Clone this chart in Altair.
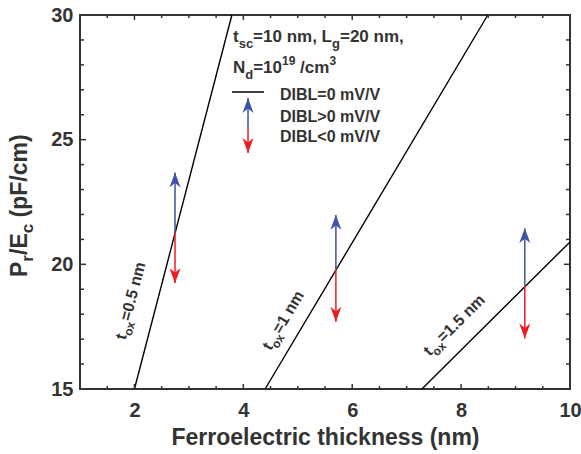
import altair as alt
import pandas as pd

FONT = "Liberation Sans"
TXT = "#333333"
AXC = "#333333"
BLUE = "#3a53a4"
RED = "#ed1c24"

W, H = 490, 374

# ---------------- data ----------------
tox_labels = ["0.5", "1", "1.5"]
line_x_start = [2.00, 4.40, 7.28]
line_y_start = [15.0, 15.0, 15.0]
line_x_end = [3.79, 8.49, 10.00]
line_y_end = [30.0, 30.0, 20.9]

arrow_x = [2.745, 5.70, 9.17]
arrow_y_mid = [21.3, 19.8, 19.15]
arrow_y_up = [23.68, 21.98, 21.45]
arrow_y_down = [19.25, 17.70, 17.03]

x_tick_labels = [2, 4, 6, 8, 10]
y_tick_labels = [15, 20, 25, 30]
x_major_ticks = [2, 4, 6, 8]
x_minor_ticks = [1.5, 2.5, 3, 3.5, 4.5, 5, 5.5, 6.5, 7, 7.5, 8.5, 9, 9.5]
y_major_ticks = [20, 25]
y_minor_ticks = [16, 17, 18, 19, 21, 22, 23, 24, 26, 27, 28, 29]

# annotation anchors (data units)
label_x = [1.834, 4.505, 7.422]
label_y = [16.95, 16.51, 16.29]
label_angle = [284.7, 300.8, 315.2]

legend_text_x = 3.81
legend_text_y = [28.92, 27.68]
legend_line_x = [3.792, 4.380]
legend_line_y = 26.91
legend_arrow_x = 4.086
legend_arrow_y = [26.67, 25.47, 24.47]  # up tip, middle, down tip
dibl_x = 4.674
dibl_y = [26.59, 25.71, 24.91]
dibl_text = ["DIBL=0 mV/V", "DIBL>0 mV/V", "DIBL<0 mV/V"]

# ---------------- helpers ----------------
ARIAL_BOLD = {
    " ": 278, "(": 333, ")": 333, ",": 278, ".": 278, "/": 278, "=": 584, "<": 584, ">": 584,
    "A": 722, "B": 722, "C": 722, "D": 722, "E": 667, "F": 611, "I": 278, "L": 611, "N": 722,
    "P": 667, "V": 667, "a": 556, "c": 556, "d": 611, "e": 556, "g": 611, "h": 611, "i": 278,
    "k": 556, "l": 278, "m": 889, "n": 611, "o": 611, "p": 611, "r": 389, "s": 556, "t": 333,
    "x": 556,
}


def tw(s, fs):
    return sum(ARIAL_BOLD.get(ch, 556) for ch in s) / 1000.0 * fs


xscale = alt.Scale(domain=[1, 10], nice=False, zero=False)
yscale = alt.Scale(domain=[15, 30], nice=False, zero=False)
XAXIS = alt.Axis(
    values=x_tick_labels, ticks=False, tickSize=0, domain=False, grid=False,
    labelFont=FONT, labelFontSize=20, labelFontWeight="bold", labelColor=TXT,
    labelPadding=11, labelFlush=False, labelOverlap=False,
    title="Ferroelectric thickness (nm)", titleFont=FONT, titleFontSize=23,
    titleFontWeight="bold", titleColor=TXT, titlePadding=6)
YAXIS = alt.Axis(
    values=y_tick_labels, ticks=False, tickSize=0, domain=False, grid=False,
    labelFont=FONT, labelFontSize=20, labelFontWeight="bold", labelColor=TXT,
    labelPadding=7, labelFlush=False, labelOverlap=False, title=None)
X = alt.X("x:Q", scale=xscale, axis=XAXIS)
Y = alt.Y("y:Q", scale=yscale, axis=YAXIS)
YT = alt.Y("y2:Q", scale=yscale, axis=YAXIS)
X2 = alt.X2("x2:Q")
Y2 = alt.Y2("y2:Q")


def rich(x, y, parts, size, angle=0, pixel=False, sub_ratio=0.76, sub_drop=0.33):
    """parts: list of (text, kind) with kind in n/sub/sup"""
    out = []
    off = 0.0
    for t, kind in parts:
        if kind == "n":
            fs, dy = size, 0
        elif kind == "sub":
            fs, dy = round(size * sub_ratio), round(size * sub_drop)
        else:
            fs, dy = round(size * 0.72), -round(size * 0.45)
        stripped = t.lstrip(" ")
        off += tw(t[: len(t) - len(stripped)], fs)
        mk = dict(align="left", baseline="alphabetic", dx=round(off, 1), dy=dy,
                  fontSize=fs, font=FONT, fontWeight="bold", color=TXT)
        if angle:
            mk["angle"] = angle % 360
        df = pd.DataFrame({"x": [x], "y": [y], "t": [stripped]})
        if pixel:
            enc = dict(x=alt.value(x), y=alt.value(y), text="t:N")
        else:
            enc = dict(x=X, y=Y, text="t:N")
        out.append(alt.Chart(df).mark_text(**mk).encode(**enc))
        off += tw(stripped, fs)
    return out


layers = []

# main lines
rows = []
for i, n in enumerate(tox_labels):
    rows.append({"tox": n, "x": line_x_start[i], "y": line_y_start[i], "o": 0})
    rows.append({"tox": n, "x": line_x_end[i], "y": line_y_end[i], "o": 1})
lines_df = pd.DataFrame(rows)
layers.append(alt.Chart(lines_df).mark_line(color="black", strokeWidth=1.4).encode(
    x=X, y=Y, detail="tox:N", order="o:Q"))

# arrows
UP = "M0,0 L1,2.7 L0,1.9 L-1,2.7 Z"
DOWN = "M0,0 L1,-2.7 L0,-1.9 L-1,-2.7 Z"
ar_up = pd.DataFrame({"x": arrow_x + [legend_arrow_x],
                      "y": arrow_y_mid + [legend_arrow_y[1]],
                      "y2": arrow_y_up + [legend_arrow_y[0]]})
ar_dn = pd.DataFrame({"x": arrow_x + [legend_arrow_x],
                      "y": arrow_y_mid + [legend_arrow_y[1]],
                      "y2": arrow_y_down + [legend_arrow_y[2]]})
layers.append(alt.Chart(ar_up).mark_rule(color=BLUE, strokeWidth=1.5).encode(x=X, y=Y, y2=Y2))
layers.append(alt.Chart(ar_dn).mark_rule(color=RED, strokeWidth=1.5).encode(x=X, y=Y, y2=Y2))
layers.append(alt.Chart(ar_up).mark_point(shape=UP, filled=True, size=121, color=BLUE,
                                          opacity=1, strokeWidth=0).encode(x=X, y=YT))
layers.append(alt.Chart(ar_dn).mark_point(shape=DOWN, filled=True, size=121, color=RED,
                                          opacity=1, strokeWidth=0).encode(x=X, y=YT))

# legend line
leg_df = pd.DataFrame({"x": [legend_line_x[0]], "x2": [legend_line_x[1]], "y": [legend_line_y]})
layers.append(alt.Chart(leg_df).mark_rule(color="black", strokeWidth=1.4).encode(x=X, x2=X2, y=Y))

# legend texts
layers += rich(legend_text_x, legend_text_y[0],
               [("t", "n"), ("sc", "sub"), ("=10 nm, L", "n"), ("g", "sub"), ("=20 nm,", "n")], 17)
layers += rich(legend_text_x, legend_text_y[1],
               [("N", "n"), ("d", "sub"), ("=10", "n"), ("19", "sup"), (" /cm", "n"), ("3", "sup")], 17)
for yy, tt in zip(dibl_y, dibl_text):
    layers += rich(dibl_x, yy, [(tt, "n")], 16)

# line labels
for i, n in enumerate(tox_labels):
    layers += rich(label_x[i], label_y[i], [("t", "n"), ("ox", "sub"), ("=" + n + " nm", "n")],
                   16, angle=label_angle[i])

# y axis title (pixel position in the left margin)
layers += rich(-53, 262, [("P", "n"), ("r", "sub"), ("/E", "n"), ("c", "sub"), (" (pF/cm)", "n")],
               23, angle=270, pixel=True, sub_ratio=0.72, sub_drop=0.27)


# inward ticks on all four sides
def xticks(vals, ln):
    df = pd.DataFrame({"x": vals})
    b = alt.Chart(df).mark_rule(color=AXC, strokeWidth=1.5).encode(
        x=X, y=alt.value(H), y2=alt.value(H - ln))
    t = alt.Chart(df).mark_rule(color=AXC, strokeWidth=1.5).encode(
        x=X, y=alt.value(0), y2=alt.value(ln))
    return [b, t]


def yticks(vals, ln):
    df = pd.DataFrame({"y": vals})
    l = alt.Chart(df).mark_rule(color=AXC, strokeWidth=1.5).encode(
        y=Y, x=alt.value(0), x2=alt.value(ln))
    r = alt.Chart(df).mark_rule(color=AXC, strokeWidth=1.5).encode(
        y=Y, x=alt.value(W), x2=alt.value(W - ln))
    return [l, r]


layers += xticks(x_major_ticks, 5) + xticks(x_minor_ticks, 3)
layers += yticks(y_major_ticks, 6) + yticks(y_minor_ticks, 4)

chart = alt.layer(*layers).properties(
    width=W, height=H,
    padding={"left": 80, "top": 15, "right": 11, "bottom": 65},
    autosize=alt.AutoSizeParams(type="none"),
    background="white",
).configure_view(stroke=AXC, strokeWidth=2)

chart.save("out.html", embed_options={"renderer": "svg", "actions": False})
